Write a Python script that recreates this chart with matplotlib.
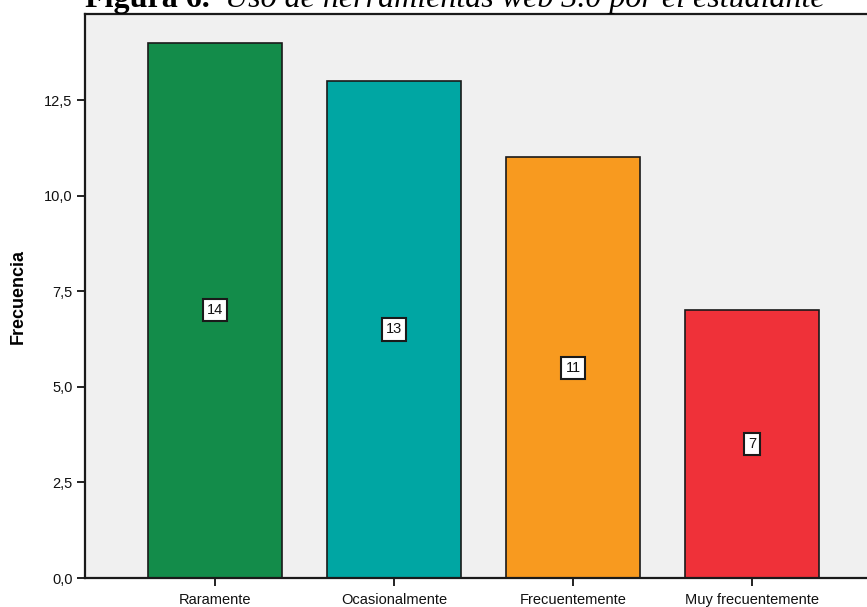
import matplotlib
matplotlib.use("Agg")
import matplotlib.pyplot as plt
from matplotlib import font_manager
from matplotlib.ticker import FixedLocator

categories = ["Raramente", "Ocasionalmente", "Frecuentemente", "Muy frecuentemente"]
counts = [14, 13, 11, 7]
bar_colors = ["#138C4A", "#00A6A3", "#F89A1F", "#EF3139"]
y_ticks = [0.0, 2.5, 5.0, 7.5, 10.0, 12.5]
y_tick_labels = ["0,0", "2,5", "5,0", "7,5", "10,0", "12,5"]

installed = {f.name for f in font_manager.fontManager.ttflist}
narrow = "Liberation Sans Narrow" if "Liberation Sans Narrow" in installed else "Liberation Sans"
narrow_size = 12.5 if narrow == "Liberation Sans Narrow" else 10.5

W, H = 867, 607
fig = plt.figure(figsize=(W / 100, H / 100), dpi=100)
fig.patch.set_facecolor("white")

left, right, top, bottom = 85, 868, 14, 578
ax = fig.add_axes([left / W, 1 - bottom / H, (right - left) / W, (bottom - top) / H])
ax.set_facecolor("#F0F0F0")

x = list(range(len(categories)))
ax.bar(x, counts, width=0.75, color=bar_colors, edgecolor="#1a1a1a", linewidth=1.2, zorder=2)

for xi, v in zip(x, counts):
    ax.text(xi, v / 2, str(v), ha="center", va="center", fontsize=narrow_size,
            family=narrow, color="#111111", zorder=3,
            bbox=dict(boxstyle="square,pad=0.28", facecolor="white",
                      edgecolor="#1a1a1a", linewidth=1.5))

ax.set_xlim(-0.726, 3.648)
ax.set_ylim(0, 14.75)
ax.yaxis.set_major_locator(FixedLocator(y_ticks))
ax.set_yticklabels(y_tick_labels)
ax.set_xticks(x)
ax.set_xticklabels(categories)
ax.tick_params(axis="both", labelsize=narrow_size, colors="#111111", length=6,
               width=1.3, direction="out")
ax.tick_params(axis="x", pad=5)
ax.tick_params(axis="y", pad=3)
for lbl in ax.get_xticklabels() + ax.get_yticklabels():
    lbl.set_family(narrow)

for s in ["left", "top", "bottom"]:
    ax.spines[s].set_color("#1a1a1a")
    ax.spines[s].set_linewidth(1.6)
ax.spines["right"].set_visible(False)

ax.set_ylabel("Frecuencia", fontsize=13, fontweight="bold", family="Liberation Sans",
              labelpad=12)

# Figure caption along the top edge
fig.text(85 / W, 1 - 6.5 / H, "Figura 6.", family="Liberation Serif", fontweight="bold",
         fontsize=23, va="baseline", ha="left")
fig.text(225 / W, 1 - 6.5 / H, "Uso de herramientas web 3.0 por el estudiante",
         family="Liberation Serif", style="italic", fontsize=23, va="baseline", ha="left")

fig.savefig("out.png", dpi=100)
